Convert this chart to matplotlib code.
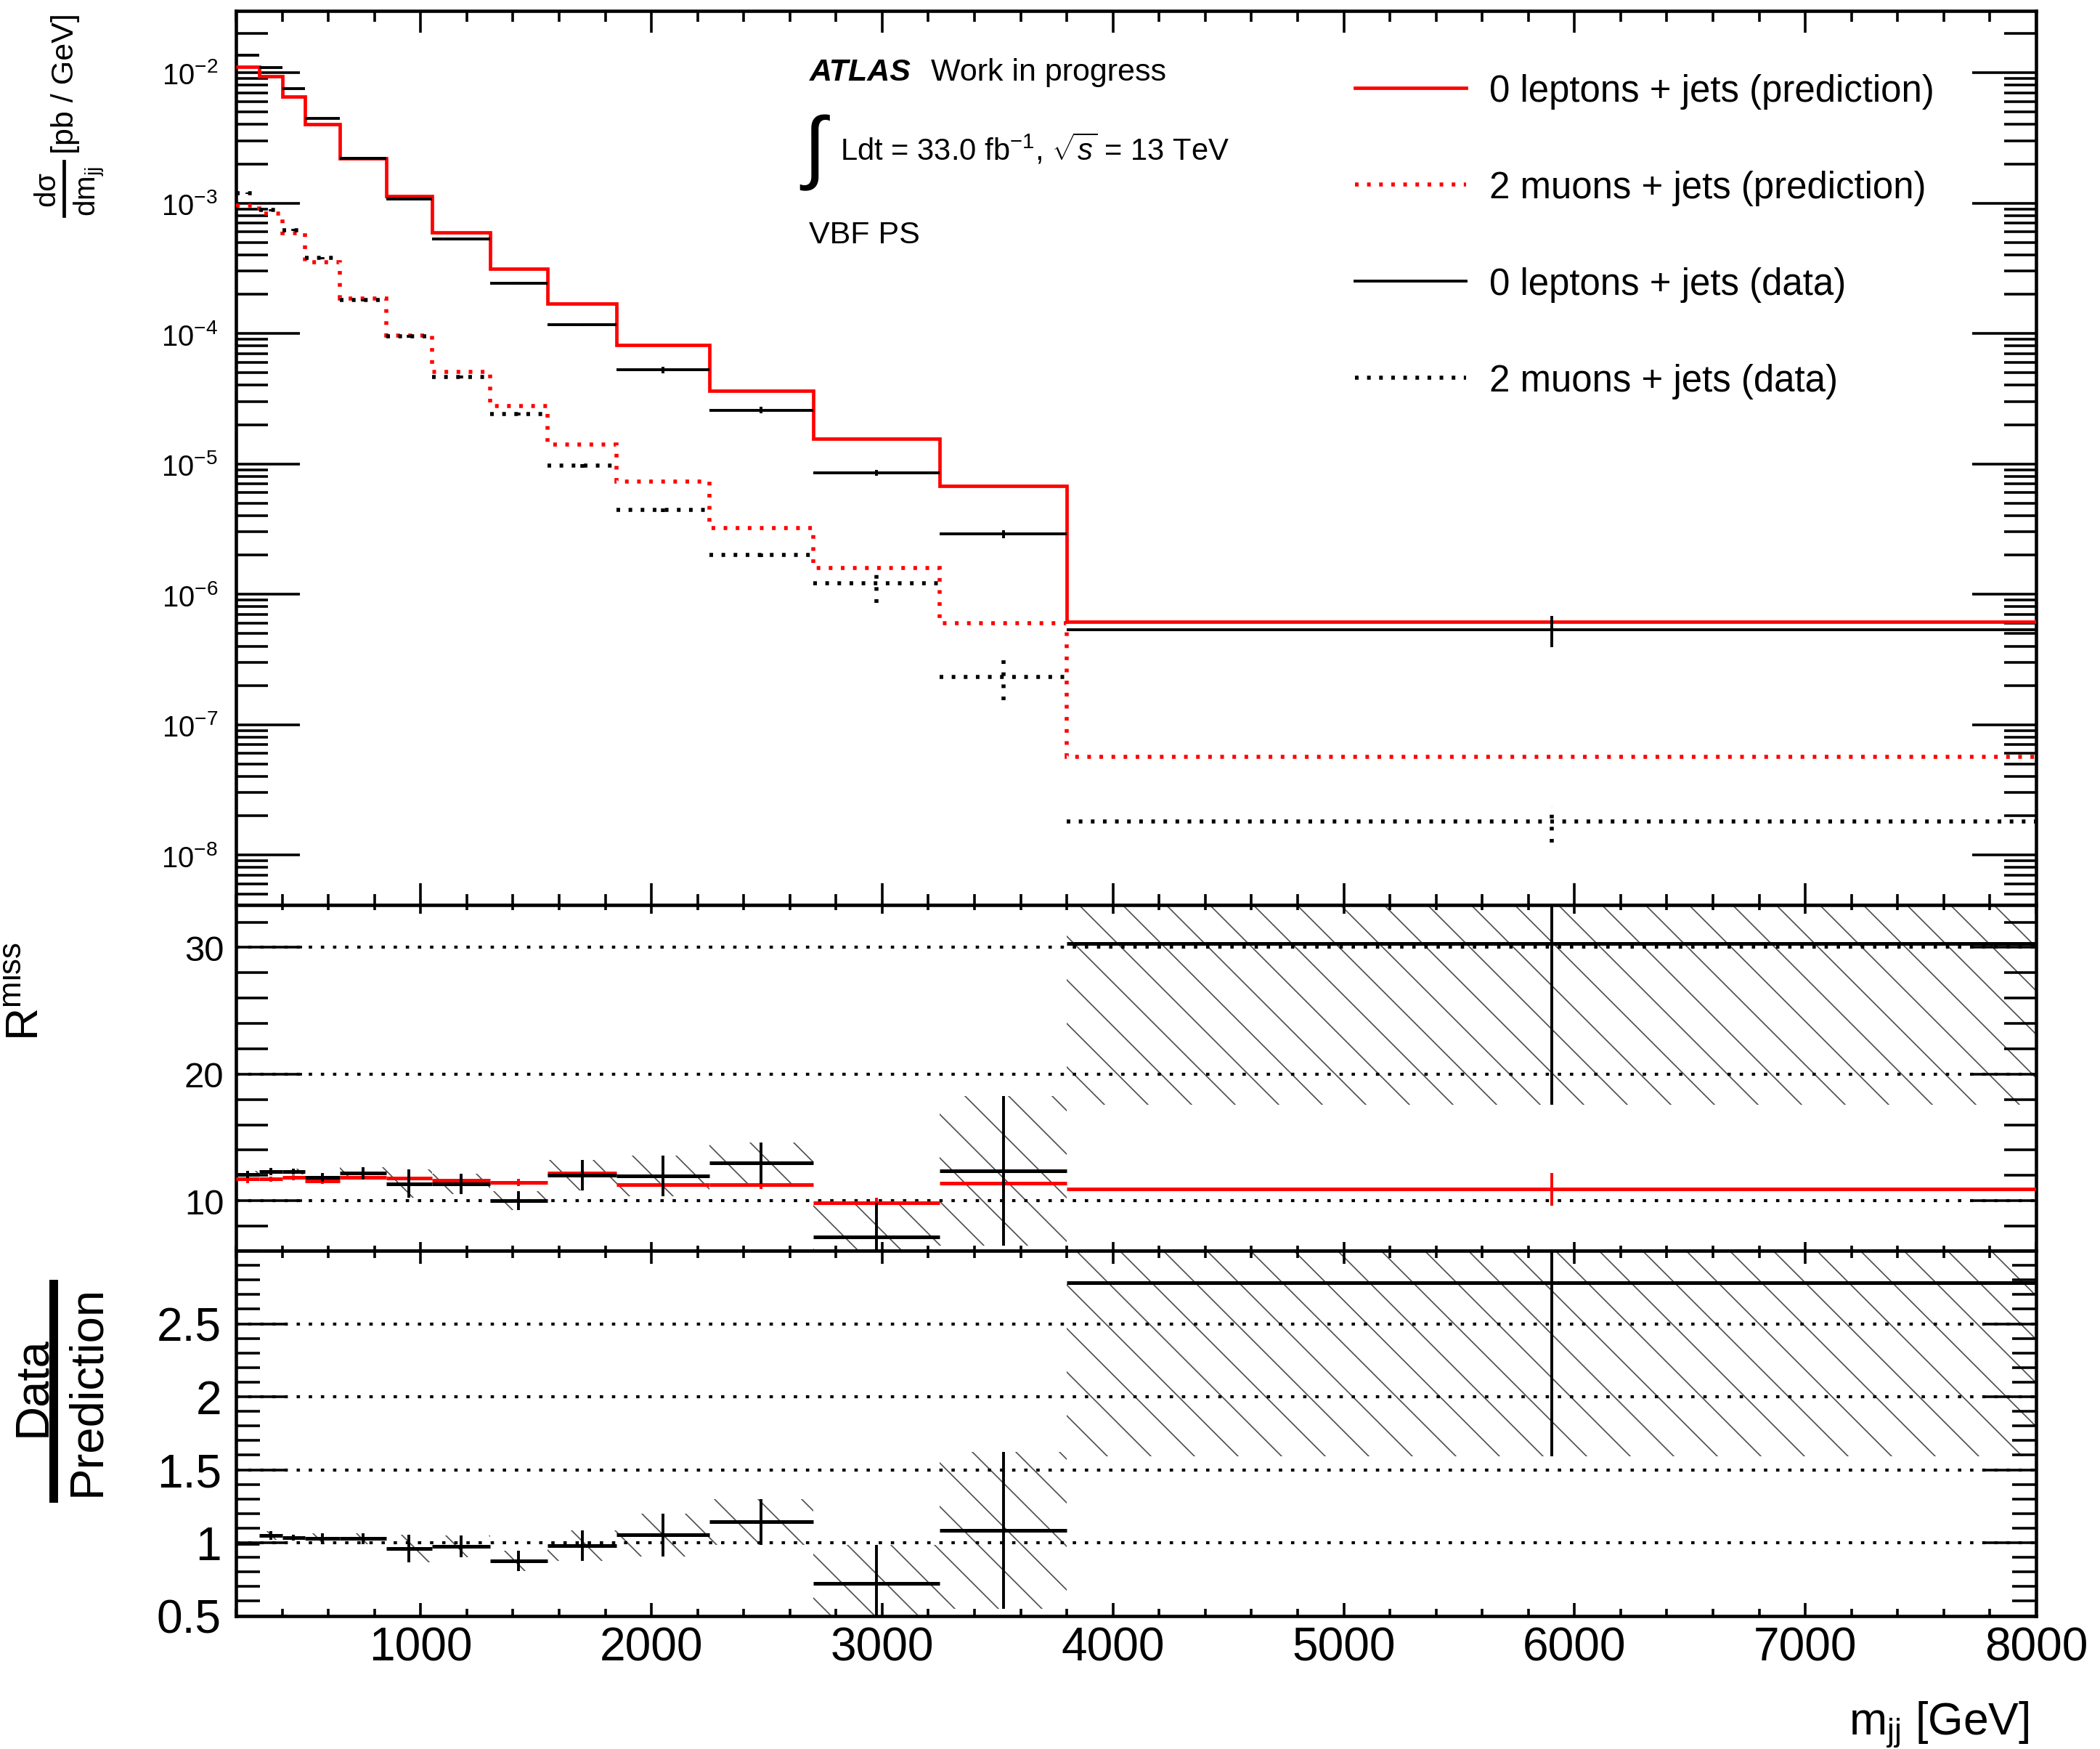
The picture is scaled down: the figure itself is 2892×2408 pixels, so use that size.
import numpy as np
import matplotlib
matplotlib.use('Agg')
import matplotlib.pyplot as plt
from matplotlib.ticker import LogLocator, MultipleLocator, NullFormatter, FixedLocator
from matplotlib.lines import Line2D

plt.rcParams['font.family'] = ['Liberation Sans', 'DejaVu Sans']
plt.rcParams['mathtext.fontset'] = 'custom'
plt.rcParams['mathtext.rm'] = 'Liberation Sans'
plt.rcParams['mathtext.it'] = 'Liberation Sans:italic'
plt.rcParams['mathtext.bf'] = 'Liberation Sans:bold'
plt.rcParams['mathtext.default'] = 'regular'
plt.rcParams['hatch.linewidth'] = 0.67
plt.rcParams['hatch.color'] = '0.3'

# m_jj binning [GeV]
edges = np.array([200, 300, 400, 500, 650, 850, 1050, 1300, 1550, 1850, 2250, 2700, 3250, 3800, 8000])

# differential cross sections [pb / GeV]
xs_0lep_pred = np.array([1.11e-2, 9.35e-3, 6.56e-3, 4.03e-3, 2.21e-3, 1.13e-3, 5.92e-4,
                         3.15e-4, 1.70e-4, 8.2e-5, 3.61e-5, 1.56e-5, 6.79e-6, 6.14e-7])
xs_2mu_pred = np.array([9.6e-4, 8.3e-4, 5.85e-4, 3.53e-4, 1.86e-4, 9.57e-5, 5.10e-5,
                        2.76e-5, 1.41e-5, 7.32e-6, 3.23e-6, 1.59e-6, 5.98e-7, 5.66e-8])
xs_0lep_data = np.array([1.36e-2, 1.09e-2, 7.56e-3, 4.45e-3, 2.21e-3, 1.08e-3, 5.27e-4,
                         2.44e-4, 1.16e-4, 5.27e-5, 2.58e-5, 8.55e-6, 2.89e-6, 5.37e-7])
xs_0lep_err = np.array([1.4e-4, 1.1e-4, 7.6e-5, 4.5e-5, 2.2e-5, 1.6e-5, 1.1e-5,
                        4.9e-6, 2.9e-6, 3.0e-6, 1.5e-6, 4.3e-7, 2.0e-7, 1.45e-7])
xs_2mu_data = np.array([1.19e-3, 8.83e-4, 6.19e-4, 3.79e-4, 1.80e-4, 9.5e-5, 4.63e-5,
                        2.42e-5, 9.68e-6, 4.43e-6, 2.0e-6, 1.21e-6, 2.33e-7, 1.80e-8])
xs_2mu_err = np.array([2e-5, 1.5e-5, 1.2e-5, 8e-6, 4e-6, 2.5e-6, 1.2e-6,
                       6e-7, 3e-7, 1.8e-7, 7e-8, 3.5e-7, 8e-8, 5.5e-9])

# R^miss = 0 lepton / 2 muon
rmiss_pred = np.array([11.71, 11.71, 11.83, 11.54, 11.87, 11.81, 11.62,
                       11.45, 12.21, 11.29, 11.29, 9.85, 11.39, 10.91])
rmiss_pred_err = np.array([0.3, 0.2, 0.2, 0.2, 0.2, 0.2, 0.2,
                           0.27, 0.2, 0.25, 0.35, 0.4, 0.3, 1.3])
rmiss_data = np.array([12.06, 12.30, 12.30, 11.83, 12.17, 11.33, 11.33,
                       10.0, 12.02, 11.96, 12.97, 7.14, 12.34, 30.29])
rmiss_data_err = np.array([0.3, 0.3, 0.25, 0.35, 0.5, 1.12, 0.8,
                           0.74, 1.2, 1.6, 1.65, 2.7, 5.9, 12.7])

# data / prediction of R^miss
ratio = np.array([0.995, 1.05, 1.036, 1.028, 1.028, 0.96, 0.977,
                  0.875, 0.982, 1.054, 1.143, 0.723, 1.084, 2.782])
ratio_err = np.array([0.01, 0.03, 0.02, 0.039, 0.039, 0.096, 0.074,
                      0.07, 0.105, 0.146, 0.157, 0.26, 0.537, 1.19])

legend_labels = ['0 leptons + jets (prediction)', '2 muons + jets (prediction)',
                 '0 leptons + jets (data)', '2 muons + jets (data)']

lo, hi = edges[:-1], edges[1:]
centers = 0.5 * (lo + hi)
widths = hi - lo

dots = (0, (0.9, 2.1))
grid_dots = (0, (1.1, 2.9))

fig = plt.figure(figsize=(16.072, 13.383), dpi=180)
ax1 = fig.add_axes([0.11234, 0.48236, 0.85690, 0.51100])
ax2 = fig.add_axes([0.11234, 0.28477, 0.85690, 0.19759])
ax3 = fig.add_axes([0.11234, 0.07617, 0.85690, 0.20860])


def style(ax, xmaj, xmin, ymaj, ymin, ysize, ypad):
    ax.set_xlim(200, 8000)
    ax.xaxis.set_major_locator(MultipleLocator(1000))
    ax.xaxis.set_minor_locator(MultipleLocator(200))
    ax.tick_params(which='both', direction='in', top=True, right=True, width=1.44)
    ax.tick_params(axis='x', which='major', length=xmaj)
    ax.tick_params(axis='x', which='minor', length=xmin)
    ax.tick_params(axis='y', which='major', length=ymaj, labelsize=ysize, pad=ypad)
    ax.tick_params(axis='y', which='minor', length=ymin)
    for s in ax.spines.values():
        s.set_linewidth(1.83)


# --- cross sections
ax1.stairs(xs_0lep_pred, edges, baseline=None, color='red', lw=1.89, zorder=3)
ax1.stairs(xs_2mu_pred, edges, baseline=None, color='red', lw=2.22, ls=dots, zorder=3)
ax1.hlines(xs_0lep_data, lo, hi, colors='k', lw=1.56, zorder=4)
ax1.vlines(centers, xs_0lep_data - xs_0lep_err, xs_0lep_data + xs_0lep_err, colors='k', lw=1.56, zorder=4)
ax1.hlines(xs_2mu_data, lo, hi, colors='k', lw=2.22, linestyles=[dots], zorder=4)
ax1.vlines(centers, xs_2mu_data - xs_2mu_err, xs_2mu_data + xs_2mu_err, colors='k', lw=2.22,
           linestyles=[dots], zorder=4)
ax1.set_yscale('log')
ax1.set_ylim(10 ** -8.384, 10 ** -1.5265)
style(ax1, 12, 6, 35.2, 17.6, 16, 10)
ax1.yaxis.set_major_locator(LogLocator(base=10, numticks=20))
ax1.yaxis.set_minor_locator(LogLocator(base=10, subs=np.arange(2, 10), numticks=20))
ax1.yaxis.set_minor_formatter(NullFormatter())
ax1.tick_params(axis='x', labelbottom=False)

handles = [Line2D([], [], color='red', lw=1.89),
           Line2D([], [], color='red', lw=2.22, ls=dots),
           Line2D([], [], color='k', lw=1.56),
           Line2D([], [], color='k', lw=2.22, ls=dots)]
ax1.legend(handles, legend_labels, loc='upper left', bbox_to_anchor=(0.6216, 0.9304),
           frameon=False, fontsize=20.4, handlelength=3.0, handletextpad=0.63,
           labelspacing=1.65, borderpad=0, borderaxespad=0)

# --- R^miss
ax2.bar(centers, 2 * rmiss_data_err, bottom=rmiss_data - rmiss_data_err, width=widths,
        fill=False, hatch='\\', edgecolor='0.3', lw=0, zorder=1)
for v in (10, 20, 30):
    ax2.axhline(v, color='k', lw=1.67, ls=grid_dots, zorder=1.5)
ax2.hlines(rmiss_pred, lo, hi, colors='red', lw=2.0, zorder=3)
ax2.vlines(centers, rmiss_pred - rmiss_pred_err, rmiss_pred + rmiss_pred_err, colors='red', lw=1.56, zorder=3)
ax2.hlines(rmiss_data, lo, hi, colors='k', lw=2.0, zorder=4)
ax2.vlines(centers, rmiss_data - rmiss_data_err, rmiss_data + rmiss_data_err, colors='k', lw=1.56, zorder=4)
ax2.set_ylim(6.05, 33.35)
style(ax2, 4.8, 2.7, 36.4, 17.6, 19.6, 6.7)
ax2.yaxis.set_major_locator(FixedLocator([10, 20, 30]))
ax2.yaxis.set_minor_locator(MultipleLocator(2))
ax2.tick_params(axis='x', labelbottom=False)

# --- data / prediction
ax3.bar(centers, 2 * ratio_err, bottom=ratio - ratio_err, width=widths,
        fill=False, hatch='\\', edgecolor='0.3', lw=0, zorder=1)
for v in (1, 1.5, 2, 2.5):
    ax3.axhline(v, color='k', lw=1.67, ls=grid_dots, zorder=1.5)
ax3.hlines(ratio, lo, hi, colors='k', lw=2.0, zorder=4)
ax3.vlines(centers, ratio - ratio_err, ratio + ratio_err, colors='k', lw=1.56, zorder=4)
ax3.set_ylim(0.5, 3.0)
style(ax3, 7.2, 4, 28.4, 13.2, 25.6, 8)
ax3.yaxis.set_major_locator(FixedLocator([0.5, 1, 1.5, 2, 2.5]))
ax3.yaxis.set_minor_locator(MultipleLocator(0.1))
ax3.yaxis.set_major_formatter(lambda v, p: '%g' % v)
ax3.tick_params(axis='x', labelsize=25.6, pad=5.6)

# --- axis titles
fig.text(0.9661, 0.0087, r'm$_{jj}$ [GeV]', fontsize=25, ha='right', va='baseline')

fig.text(0.0349, 0.99253, '[pb / GeV]', fontsize=17.2, rotation=90, rotation_mode='anchor',
         ha='right', va='baseline')
fig.text(0.0266, 0.89124, r'd$\mathregular{\sigma}$', fontsize=16.1, rotation=90,
         rotation_mode='anchor', ha='center', va='baseline')
fig.text(0.04563, 0.89062, r'dm$_{jj}$', fontsize=16.1, rotation=90, rotation_mode='anchor',
         ha='center', va='baseline')
fig.add_artist(Line2D([0.0304, 0.0304], [0.90743, 0.8763], color='k', lw=1.89,
                      transform=fig.transFigure))

fig.text(0.01832, 0.4616, r'R$^{miss}$', fontsize=25, rotation=90, rotation_mode='anchor',
         ha='right', va='baseline')

fig.text(0.02143, 0.20756, 'Data', fontsize=26.1, rotation=90, rotation_mode='anchor',
         ha='center', va='baseline')
fig.text(0.04736, 0.20527, 'Prediction', fontsize=26.1, rotation=90, rotation_mode='anchor',
         ha='center', va='baseline')
fig.add_artist(Line2D([0.02558, 0.02558], [0.26567, 0.14321], color='k', lw=4.78,
                      transform=fig.transFigure))

# --- ATLAS labels
fig.text(0.3854, 0.9539, 'ATLAS', fontsize=17.2, weight='bold', style='italic', va='baseline')
fig.text(0.4431, 0.9539, 'Work in progress', fontsize=17.2, va='baseline')
fig.text(0.3805, 0.9128, r'$\int$', fontsize=44.4, math_fontfamily='stix', va='center', ha='left')
fig.text(0.4000, 0.9085, r'Ldt = 33.0 fb$^{-1}$, $\sqrt{\mathit{s}}$ = 13 TeV', fontsize=16.7,
         va='baseline')
fig.text(0.3851, 0.8609, 'VBF PS', fontsize=17.2, va='baseline')

fig.savefig('out.png', dpi=180)
